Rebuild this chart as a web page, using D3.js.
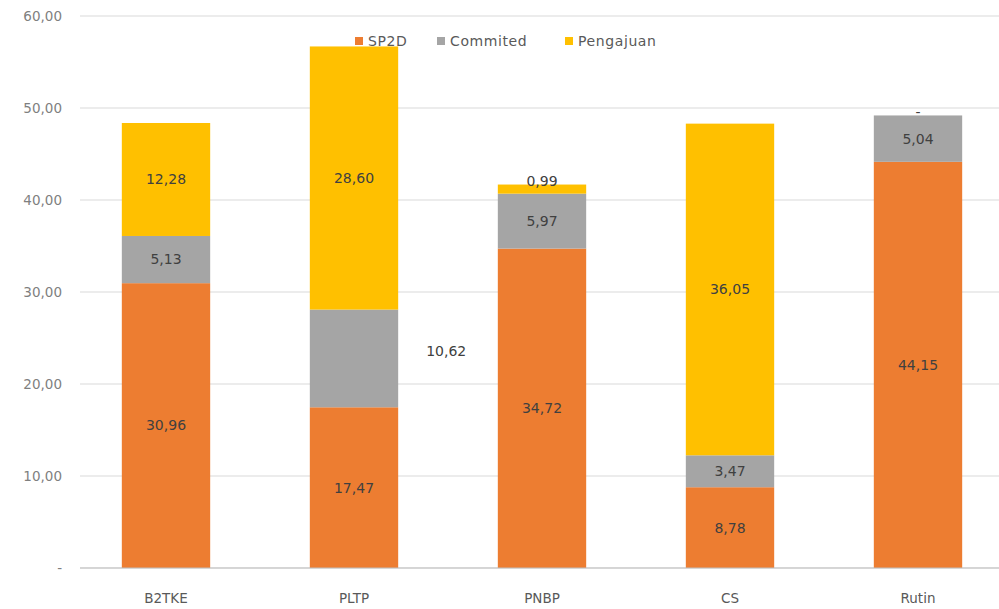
<html>
<head>
    <script src="https://d3js.org/d3.v7.min.js"></script>
    <style>
        body { margin: 0; background: #fff; }
        svg { font-family: "DejaVu Sans", "Open Sans", sans-serif; }
    </style>
</head>
<body>
    <svg width="999" height="609"></svg>
    <script>
        // chart data
        const categories = ["B2TKE", "PLTP", "PNBP", "CS", "Rutin"];
        const seriesNames = ["SP2D", "Commited", "Pengajuan"];
        const sp2d = [30.96, 17.47, 34.72, 8.78, 44.15];
        const commited = [5.13, 10.62, 5.97, 3.47, 5.04];
        const pengajuan = [12.28, 28.60, 0.99, 36.05, 0];
        const yTicks = [0, 10, 20, 30, 40, 50, 60];

        const colors = ["#ED7D31", "#A5A5A5", "#FFC000"];

        const rows = categories.map((c, i) => ({
            cat: c, SP2D: sp2d[i], Commited: commited[i], Pengajuan: pengajuan[i]
        }));

        const svg = d3.select("svg");
        const plotLeft = 72, plotRight = 1012, plotTop = 16, plotBottom = 568;

        const x = d3.scaleBand().domain(categories).range([plotLeft, plotRight]).paddingInner(0.53).paddingOuter(0.265);
        const y = d3.scaleLinear().domain([0, 60]).range([plotBottom, plotTop]);

        const fmt = v => v === 0 ? "-" : d3.format(".2f")(v).replace(".", ",");

        // gridlines
        svg.append("g").selectAll("line")
            .data(yTicks)
            .join("line")
            .attr("x1", 80).attr("x2", 999)
            .attr("y1", d => y(d)).attr("y2", d => y(d))
            .attr("stroke", "#d9d9d9").attr("stroke-width", 1);

        // y labels
        svg.append("g").selectAll("text")
            .data(yTicks)
            .join("text")
            .attr("x", 62).attr("y", d => y(d))
            .attr("dy", "0.35em")
            .attr("text-anchor", "end")
            .attr("fill", "#7f7f7f")
            .style("font-size", "13.5px")
            .text(fmt);

        // stacked bars
        const stack = d3.stack().keys(seriesNames)(rows);

        const groups = svg.append("g").selectAll("g")
            .data(stack)
            .join("g")
            .attr("fill", (d, i) => colors[i]);

        groups.selectAll("rect")
            .data(d => d)
            .join("rect")
            .attr("x", d => x(d.data.cat))
            .attr("width", x.bandwidth())
            .attr("y", d => y(d[1]))
            .attr("height", d => y(d[0]) - y(d[1]));

        // data labels
        groups.each(function (s) {
            d3.select(this).selectAll("text")
                .data(s)
                .join("text")
                .attr("x", d => {
                    // PLTP commited label sits outside the bar
                    if (s.key === "Commited" && d.data.cat === "PLTP") return x(d.data.cat) + x.bandwidth() + 48;
                    return x(d.data.cat) + x.bandwidth() / 2;
                })
                .attr("y", d => {
                    const v = d[1] - d[0];
                    if (v < 2) return y(d[1]) - 3;
                    if (s.key === "Commited" && d.data.cat === "PLTP") return (y(d[0]) + y(d[1])) / 2 - 7;
                    return (y(d[0]) + y(d[1])) / 2;
                })
                .attr("dy", "0.35em")
                .attr("text-anchor", "middle")
                .attr("fill", "#404040")
                .style("font-size", "14px")
                .text(d => fmt(d[1] - d[0]));
        });

        // x axis line and labels
        svg.append("line")
            .attr("x1", 80).attr("x2", 999)
            .attr("y1", plotBottom).attr("y2", plotBottom)
            .attr("stroke", "#bfbfbf");

        svg.append("g").selectAll("text")
            .data(categories)
            .join("text")
            .attr("x", d => x(d) + x.bandwidth() / 2)
            .attr("y", 598)
            .attr("dy", "0.35em")
            .attr("text-anchor", "middle")
            .attr("fill", "#595959")
            .style("font-size", "13.5px")
            .text(d => d);

        // legend
        const legendX = [355, 437, 565];
        const legend = svg.append("g").selectAll("g")
            .data(seriesNames)
            .join("g")
            .attr("transform", (d, i) => `translate(${legendX[i]},41)`);
        legend.append("rect")
            .attr("x", 0).attr("y", -4)
            .attr("width", 8).attr("height", 8)
            .attr("fill", (d, i) => colors[i]);
        legend.append("text")
            .attr("x", 13).attr("dy", "0.35em")
            .attr("fill", "#595959")
            .style("font-size", "14px")
            .style("letter-spacing", "0.6px")
            .text(d => d);
    </script>
</body>
</html>
